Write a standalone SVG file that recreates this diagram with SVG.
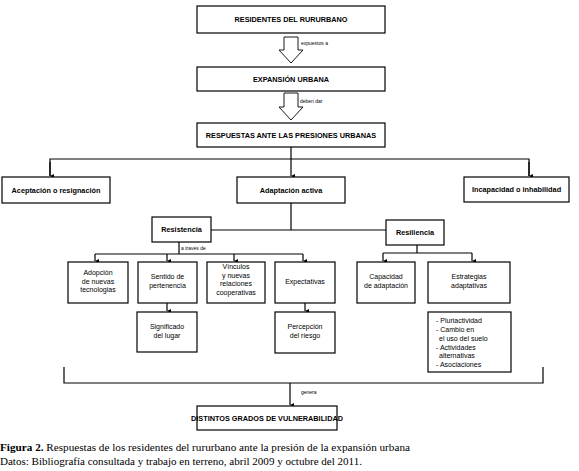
<svg xmlns="http://www.w3.org/2000/svg" width="579" height="471" viewBox="0 0 579 471">
<style>
.box{fill:#fff;stroke:#000;stroke-width:1.2}
.ln{fill:none;stroke:#000;stroke-width:1.2}
.blk{fill:#fff;stroke:#000;stroke-width:0.9}
.tb{font-family:"Liberation Sans",Arial,sans-serif;font-weight:bold;font-size:7.3px;fill:#000;text-anchor:middle}
.t{font-family:"Liberation Sans",Arial,sans-serif;font-size:7px;fill:#000;text-anchor:middle}
.tl{font-family:"Liberation Sans",Arial,sans-serif;font-size:7px;fill:#000}
.s{font-family:"Liberation Sans",Arial,sans-serif;font-size:5px;fill:#000}
.cap{font-family:"Liberation Serif","Times New Roman",serif;font-size:10px;fill:#000}
</style>
<defs>
<marker id="ah" markerUnits="userSpaceOnUse" markerWidth="4" markerHeight="4" refX="2" refY="4" orient="auto-start-reverse" viewBox="0 0 4 4">
<path d="M0,0 L4,0 L2,4 Z" fill="#000"/>
</marker>
</defs>
<rect width="579" height="471" fill="#fff"/>

<g id="connectors">
<polygon class="blk" points="284,37 298,37 298,50 303,50 291,63 279,50 284,50"/>
<polygon class="blk" points="284,93 298,93 298,107 303,107 291,120 279,107 284,107"/>
<path class="ln" d="M291,147 V159"/>
<path class="ln" d="M50,176 V159 H529 V176" />
<path class="ln" d="M50,162 V176" marker-end="url(#ah)"/>
<path class="ln" d="M291,159 V176" marker-end="url(#ah)"/>
<path class="ln" d="M529,162 V176" marker-end="url(#ah)"/>
<path class="ln" d="M291,203 V230"/>
<path class="ln" d="M211,230 H386"/>
<path class="ln" d="M179,242 V254"/>
<path class="ln" d="M95,254 H303"/>
<path class="ln" d="M95,254 V261" marker-end="url(#ah)"/>
<path class="ln" d="M167,254 V261" marker-end="url(#ah)"/>
<path class="ln" d="M234,254 V261" marker-end="url(#ah)"/>
<path class="ln" d="M303,254 V261" marker-end="url(#ah)"/>
<path class="ln" d="M167,303 V311" marker-end="url(#ah)"/>
<path class="ln" d="M305,303 V311" marker-end="url(#ah)"/>
<path class="ln" d="M417,245 V253"/>
<path class="ln" d="M383,253 H472"/>
<path class="ln" d="M383,253 V261" marker-end="url(#ah)"/>
<path class="ln" d="M472,253 V261" marker-end="url(#ah)"/>
<path class="ln" d="M64,367 V383 H543 V367"/>
<path class="ln" d="M290,383 V405" marker-end="url(#ah)"/>
<text class="s" x="301" y="45">expuestos a</text>
<text class="s" x="300" y="103">deben dar</text>
<text class="s" x="181" y="250">a través de</text>
<text class="s" x="301" y="394">genera</text>
</g>

<g id="n-residentes"><rect class="box" x="197" y="6" width="188" height="27"/><text class="tb" x="291" y="22">RESIDENTES DEL RURURBANO</text></g>
<g id="n-expansion"><rect class="box" x="197" y="67" width="188" height="24"/><text class="tb" x="291" y="82">EXPANSIÓN URBANA</text></g>
<g id="n-respuestas"><rect class="box" x="197" y="123" width="188" height="24"/><text class="tb" x="291" y="138">RESPUESTAS ANTE LAS PRESIONES URBANAS</text></g>
<g id="n-aceptacion"><rect class="box" x="2" y="177" width="108" height="26"/><text class="tb" x="56" y="192.5">Aceptación o resignación</text></g>
<g id="n-adaptacion"><rect class="box" x="237" y="177" width="108" height="26"/><text class="tb" x="291" y="192.5">Adaptación activa</text></g>
<g id="n-incapacidad"><rect class="box" x="464" y="177" width="105" height="25"/><text class="tb" x="516.5" y="192">Incapacidad o inhabilidad</text></g>
<g id="n-resistencia"><rect class="box" x="152" y="217" width="59" height="25"/><text class="tb" x="181.5" y="232">Resistencia</text></g>
<g id="n-resiliencia"><rect class="box" x="386" y="220" width="58" height="25"/><text class="tb" x="415" y="235">Resiliencia</text></g>
<g id="n-adopcion"><rect class="box" x="68" y="262" width="60" height="41"/><text class="t" x="98" y="275">Adopción</text><text class="t" x="98" y="283.5">de nuevas</text><text class="t" x="98" y="292">tecnologias</text></g>
<g id="n-sentido"><rect class="box" x="138" y="262" width="59" height="41"/><text class="t" x="167.5" y="279">Sentido de</text><text class="t" x="167.5" y="287.5">pertenencia</text></g>
<g id="n-vinculos"><rect class="box" x="207" y="262" width="58" height="41"/><text class="t" x="236" y="269">Vínculos</text><text class="t" x="236" y="277.5">y nuevas</text><text class="t" x="236" y="286">relaciones</text><text class="t" x="236" y="294.5">cooperativas</text></g>
<g id="n-expectativas"><rect class="box" x="275" y="262" width="60" height="41"/><text class="t" x="305" y="284">Expectativas</text></g>
<g id="n-significado"><rect class="box" x="137" y="312" width="60" height="40"/><text class="t" x="167" y="329">Significado</text><text class="t" x="167" y="337.5">del lugar</text></g>
<g id="n-percepcion"><rect class="box" x="275" y="312" width="60" height="41"/><text class="t" x="305" y="329">Percepción</text><text class="t" x="305" y="337.5">del riesgo</text></g>
<g id="n-capacidad"><rect class="box" x="357" y="262" width="58" height="41"/><text class="t" x="386" y="279">Capacidad</text><text class="t" x="386" y="287.5">de adaptación</text></g>
<g id="n-estrategias"><rect class="box" x="428" y="262" width="82" height="41"/><text class="t" x="469" y="279">Estrategias</text><text class="t" x="469" y="287.5">adaptativas</text></g>
<g id="n-lista"><rect class="box" x="428" y="312" width="83" height="60"/>
<text class="tl" x="436" y="322.5">- Pluriactividad</text>
<text class="tl" x="436" y="331.5">- Cambio en</text>
<text class="tl" x="439" y="340.5">el uso del suelo</text>
<text class="tl" x="436" y="349.5">- Actividades</text>
<text class="tl" x="439" y="358">alternativas</text>
<text class="tl" x="436" y="366.5">- Asociaciones</text>
</g>
<g id="n-vulnerabilidad"><rect class="box" x="197" y="406" width="140" height="24"/><text class="tb" x="267" y="421">DISTINTOS GRADOS DE VULNERABILIDAD</text></g>

<text class="cap" x="0" y="451" textLength="410" lengthAdjust="spacingAndGlyphs"><tspan font-weight="bold">Figura 2.</tspan> Respuestas de los residentes del rururbano ante la presión de la expansión urbana</text>
<text class="cap" x="0" y="465" textLength="362" lengthAdjust="spacingAndGlyphs">Datos: Bibliografía consultada y trabajo en terreno, abril 2009 y octubre del 2011.</text>
</svg>
